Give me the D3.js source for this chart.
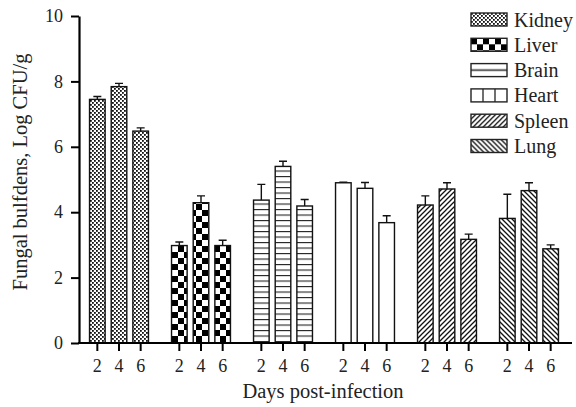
<!DOCTYPE html>
<html>
<head>
<meta charset="utf-8">
<script src="https://cdn.jsdelivr.net/npm/d3@7"></script>
<style>
  body { margin: 0; background: #fff; }
  svg { font-family: "Liberation Serif", "Times New Roman", serif; }
</style>
</head>
<body>
<div id="chart"></div>
<script>
// organs and days
var organs = ['Kidney', 'Liver', 'Brain', 'Heart', 'Spleen', 'Lung'];
var days = ['2', '4', '6'];
// mean log CFU/g, one row per organ (day 2, 4, 6)
var means = [
  [7.45, 7.84, 6.48],
  [2.98, 4.29, 2.98],
  [4.37, 5.40, 4.19],
  [4.90, 4.73, 3.68],
  [4.22, 4.71, 3.17],
  [3.81, 4.66, 2.88]
];
// upper error (SD)
var errs = [
  [0.09, 0.10, 0.10],
  [0.11, 0.21, 0.16],
  [0.48, 0.16, 0.20],
  [0.02, 0.18, 0.21],
  [0.28, 0.19, 0.16],
  [0.74, 0.24, 0.12]
];
var yTicks = [0, 2, 4, 6, 8, 10];

var width = 576, height = 407;
var svg = d3.select('#chart').append('svg')
  .attr('width', width)
  .attr('height', height);

var defs = svg.append('defs');

// fill patterns
function pat(id, w, h) {
  var p = defs.append('pattern').attr('id', id)
    .attr('patternUnits', 'userSpaceOnUse')
    .attr('width', w).attr('height', h);
  p.append('rect').attr('width', w).attr('height', h).attr('fill', '#fff');
  return p;
}
var pk = pat('p-kidney', 4, 4);
pk.append('rect').attr('x', 0).attr('y', 0).attr('width', 1.8).attr('height', 1.8).attr('fill', '#111');
pk.append('rect').attr('x', 2).attr('y', 2).attr('width', 1.8).attr('height', 1.8).attr('fill', '#111');

var pl = pat('p-liver', 12, 12);
pl.append('rect').attr('x', 0).attr('y', 0).attr('width', 6).attr('height', 6).attr('fill', '#000');
pl.append('rect').attr('x', 6).attr('y', 6).attr('width', 6).attr('height', 6).attr('fill', '#000');

var pb = pat('p-brain', 6, 5.5);
pb.append('line').attr('x1', 0).attr('x2', 6).attr('y1', 0.5).attr('y2', 0.5)
  .attr('stroke', '#222').attr('stroke-width', 1.2);

var ph = pat('p-heart', 40, 10);

var ps = pat('p-spleen', 5, 5);
ps.append('path').attr('d', 'M-1,6 L6,-1 M-1,1 L1,-1 M4,6 L6,4')
  .attr('stroke', '#111').attr('stroke-width', 1.3);

var pg = pat('p-lung', 5, 5);
pg.append('path').attr('d', 'M-1,-1 L6,6 M4,-1 L6,1 M-1,4 L1,6')
  .attr('stroke', '#111').attr('stroke-width', 1.3);

// legend-only patterns
var lb = defs.append('pattern').attr('id', 'l-brain').attr('patternUnits', 'objectBoundingBox')
  .attr('width', 1).attr('height', 1);
lb.append('rect').attr('width', 36).attr('height', 13).attr('fill', '#fff');
lb.append('line').attr('x1', 0).attr('x2', 36).attr('y1', 6.5).attr('y2', 6.5)
  .attr('stroke', '#222').attr('stroke-width', 1.3);
var lh = defs.append('pattern').attr('id', 'l-heart').attr('patternUnits', 'objectBoundingBox')
  .attr('width', 1).attr('height', 1);
lh.append('rect').attr('width', 36).attr('height', 13).attr('fill', '#fff');
[12, 24].forEach(function (x) {
  lh.append('line').attr('x1', x).attr('x2', x).attr('y1', 0).attr('y2', 13)
    .attr('stroke', '#222').attr('stroke-width', 1.3);
});

var barFill = ['p-kidney', 'p-liver', 'p-brain', 'p-heart', 'p-spleen', 'p-lung'];
var legFill = ['p-kidney', 'p-liver', 'l-brain', 'l-heart', 'p-spleen', 'p-lung'];

// scales
var x0 = d3.scaleBand().domain(organs).range([78, 570]);
var x1 = d3.scaleBand().domain(days).range([8.5, 73.5]).paddingInner(0.28).paddingOuter(0.14);
var y = d3.scaleLinear().domain([0, 10]).range([343, 16]);

// bars
var groups = svg.selectAll('.grp')
  .data(organs)
  .enter().append('g')
  .attr('class', 'grp')
  .attr('transform', function (d) { return 'translate(' + x0(d) + ',0)'; });

groups.each(function (org, i) {
  var g = d3.select(this);
  var rows = days.map(function (day, j) {
    return { day: day, v: means[i][j], e: errs[i][j] };
  });
  // error whiskers
  g.selectAll('.err').data(rows).enter().append('path')
    .attr('d', function (d) {
      var cx = x1(d.day) + x1.bandwidth() / 2;
      return 'M' + cx + ',' + y(d.v) + 'V' + y(d.v + d.e) +
        'M' + (cx - 4) + ',' + y(d.v + d.e) + 'H' + (cx + 4);
    })
    .attr('stroke', '#111').attr('stroke-width', 1.4).attr('fill', 'none');
  g.selectAll('.bar').data(rows).enter().append('rect')
    .attr('x', function (d) { return x1(d.day); })
    .attr('y', function (d) { return y(d.v); })
    .attr('width', x1.bandwidth())
    .attr('height', function (d) { return y(0) - y(d.v); })
    .attr('fill', 'url(#' + barFill[i] + ')')
    .attr('stroke', '#111').attr('stroke-width', 1.4);
  // day ticks
  var ax = g.append('g').attr('transform', 'translate(0,' + y(0) + ')')
    .call(d3.axisBottom(x1).tickSize(8).tickPadding(8));
  ax.select('.domain').remove();
  ax.selectAll('line').attr('stroke', '#000').attr('stroke-width', 2);
  ax.selectAll('text').attr('font-size', 18).attr('fill', '#222').attr('font-family', 'Liberation Serif');
});

// x axis line
svg.append('line').attr('x1', 78).attr('x2', 572).attr('y1', y(0)).attr('y2', y(0))
  .attr('stroke', '#000').attr('stroke-width', 2.2);

// y axis
var yAx = svg.append('g').attr('transform', 'translate(79,0)')
  .call(d3.axisLeft(y).tickValues(yTicks).tickSize(8).tickPadding(8).tickSizeOuter(0));
yAx.select('.domain').attr('stroke-width', 2.2);
yAx.selectAll('line').attr('stroke-width', 2);
yAx.selectAll('text').attr('font-size', 18).attr('fill', '#222').attr('font-family', 'Liberation Serif');

// axis titles
svg.append('text')
  .attr('transform', 'translate(27,172)rotate(-90)')
  .attr('text-anchor', 'middle')
  .attr('font-size', 20.5).attr('fill', '#222')
  .text('Fungal bulfdens, Log CFU/g');
svg.append('text')
  .attr('x', 323).attr('y', 398)
  .attr('text-anchor', 'middle')
  .attr('font-size', 20.5).attr('fill', '#222')
  .text('Days post-infection');

// legend
var leg = svg.selectAll('.leg').data(organs).enter().append('g')
  .attr('class', 'leg')
  .attr('transform', function (d, i) { return 'translate(471,' + (13 + i * 25.3) + ')'; });
leg.append('rect').attr('width', 36).attr('height', 13)
  .attr('fill', function (d, i) { return 'url(#' + legFill[i] + ')'; })
  .attr('stroke', '#222').attr('stroke-width', 1.4);
leg.append('text').attr('x', 43).attr('y', 13.5)
  .attr('font-size', 20).attr('fill', '#222')
  .text(function (d) { return d; });
</script>
</body>
</html>
